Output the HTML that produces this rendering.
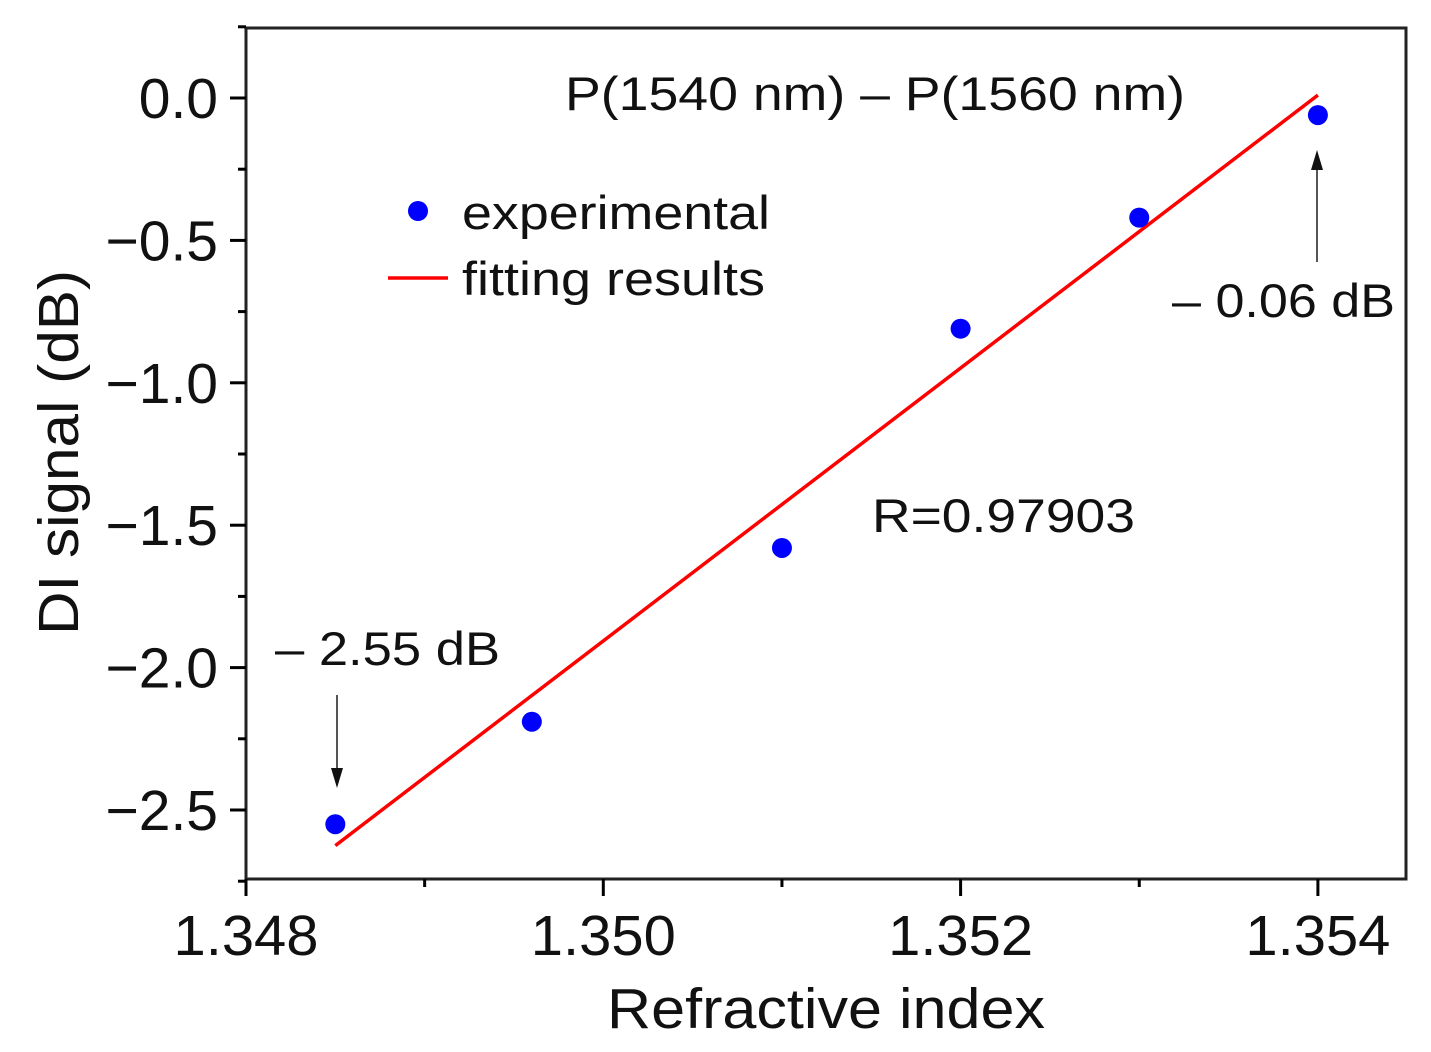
<!DOCTYPE html>
<html><head><meta charset="utf-8"><style>
html,body{margin:0;padding:0;background:#fff;}
svg{display:block;font-family:"Liberation Sans",Arial,sans-serif;}
</style></head><body>
<svg id="chart" width="1431" height="1052" viewBox="0 0 1431 1052">
<g id="g"></g>
</svg>
<script>
const xTicks = [1.348, 1.350, 1.352, 1.354];
const xTickLabels = ["1.348", "1.350", "1.352", "1.354"];
const yTicks = [0.0, -0.5, -1.0, -1.5, -2.0, -2.5];
const yTickLabels = ["0.0", "\u22120.5", "\u22121.0", "\u22121.5", "\u22122.0", "\u22122.5"];
const expX = [1.3485, 1.3496, 1.351, 1.352, 1.353, 1.354];
const expY = [-2.55, -2.19, -1.58, -0.81, -0.42, -0.06];
const fitX = [1.3485, 1.354];
const fitY = [-2.625, 0.01];

const X0=246, X1=1406, Y0=28, Y1=879;
function sx(v){return 246 + (v-1.348)/0.002*357.3;}
function sy(v){return 98 + (0-v)/0.5*142.4;}
const NS="http://www.w3.org/2000/svg";
const g=document.getElementById('g');
function el(t,a,txt){const e=document.createElementNS(NS,t);for(const k in a)e.setAttribute(k,a[k]);if(txt!==undefined)e.textContent=txt;g.appendChild(e);return e;}

let e;
e=el('rect',{x:X0,y:Y0,width:X1-X0,height:Y1-Y0,fill:'none',stroke:'#222','stroke-width':3});



xTicks.forEach((v,i)=>{
  const x=sx(v);
  e=el('line',{x1:x,y1:Y1,x2:x,y2:Y1+17,stroke:'#000','stroke-width':3});
  
  
  e=el('text',{x:x,y:955,'font-size':57,'text-anchor':'middle',fill:'#111',textLength:145,lengthAdjust:'spacingAndGlyphs'},xTickLabels[i]);
  
  
  if(i<xTicks.length-1){
    const xm=sx(v+0.001);
    e=el('line',{x1:xm,y1:Y1,x2:xm,y2:Y1+8,stroke:'#000','stroke-width':3});
    
    
  }
});
yTicks.forEach((v,i)=>{
  const y=sy(v);
  e=el('line',{x1:X0-16,y1:y,x2:X0,y2:y,stroke:'#000','stroke-width':3});
  
  
  e=el('text',{x:218,y:y+20,'font-size':57,'text-anchor':'end',fill:'#111'},yTickLabels[i]);
  
  
});
[0.25,-0.25,-0.75,-1.25,-1.75,-2.25,-2.75].forEach(v=>{
  const y=sy(v);
  e=el('line',{x1:X0-8,y1:y,x2:X0,y2:y,stroke:'#000','stroke-width':3});
  
  
});

e=el('text',{x:607,y:1028,'font-size':57,fill:'#111',textLength:438,lengthAdjust:'spacingAndGlyphs'},'Refractive index');


e=el('text',{x:0,y:0,'font-size':57,fill:'#111',textLength:365,lengthAdjust:'spacingAndGlyphs',transform:'translate(78,635) rotate(-90)'},'DI signal (dB)');



e=el('line',{x1:sx(fitX[0]),y1:sy(fitY[0]),x2:sx(fitX[1]),y2:sy(fitY[1]),stroke:'#f00','stroke-width':3.5});



expX.forEach((v,i)=>{
  e=el('circle',{cx:sx(v),cy:sy(expY[i]),r:10,fill:'#00f'});
  
  
});

function T(x,y,txt,w,name){
  e=el('text',{x:x,y:y,'font-size':47,fill:'#111',textLength:w,lengthAdjust:'spacingAndGlyphs'},txt);
  
  
}
T(565,110,'P(1540 nm) \u2013 P(1560 nm)',620,'annotation-title');
e=el('circle',{cx:418,cy:211,r:10,fill:'#00f'});


T(462,229,'experimental',308,'legend-label-experimental');
e=el('line',{x1:388,y1:278,x2:448,y2:278,stroke:'#f00','stroke-width':3.5});


T(462,295,'fitting results',303,'legend-label-fitting');
T(872,532,'R=0.97903',263,'r-value-label');
T(1172,317,'\u2013 0.06 dB',223,'annotation-max');
T(275,665,'\u2013 2.55 dB',225,'annotation-min');

e=el('line',{x1:1317,y1:262,x2:1317,y2:165,stroke:'#555','stroke-width':2});


e=el('polygon',{points:'1311,170 1323,170 1317,150',fill:'#111'});


e=el('line',{x1:337,y1:695,x2:337,y2:775,stroke:'#555','stroke-width':2});


e=el('polygon',{points:'331,768 343,768 337,788',fill:'#111'});


</script>
</body></html>
